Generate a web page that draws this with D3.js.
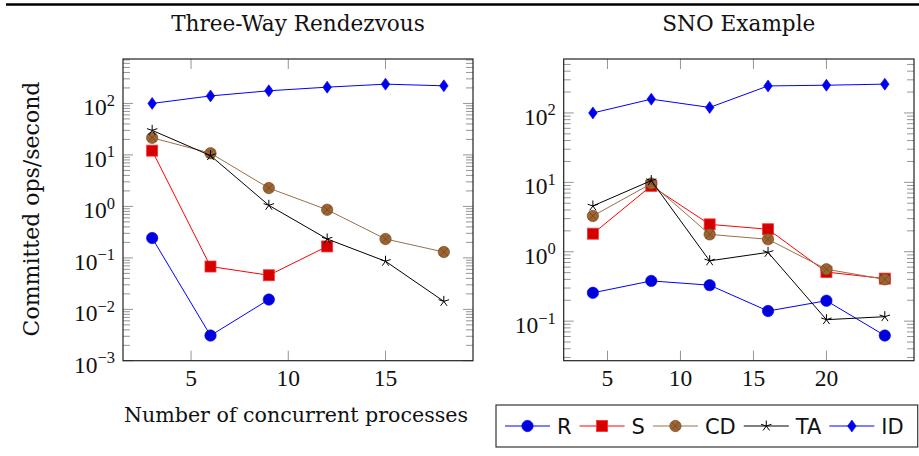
<!DOCTYPE html>
<html>
<head>
<meta charset="utf-8">
<script src="https://cdn.jsdelivr.net/npm/d3@7"></script>
<style>
body{margin:0;background:#fff;}
svg text{fill:#111;}
.serif{font-family:"DejaVu Serif",serif;}
.num{font-family:"Liberation Serif",serif;}
.sans{font-family:"DejaVu Sans",sans-serif;}
</style>
</head>
<body>
<script>
// data
var rvX  = [3,6,9,12,15,18];
var rvR  = [0.243,0.0031,0.0155,null,null,null];
var rvS  = [12.1,0.068,0.046,0.167,null,null];
var rvCD = [21.5,10.8,2.27,0.86,0.233,0.13];
var rvTA = [30,9.7,1.05,0.233,0.086,0.0143];
var rvID = [100,140,176,207,237,220];

var snoX  = [4,8,12,16,20,24];
var snoR  = [0.256,0.38,0.33,0.14,0.197,0.062];
var snoS  = [1.82,8.9,2.48,2.11,0.51,0.41];
var snoCD = [3.28,9.6,1.78,1.51,0.56,0.40];
var snoTA = [4.57,10.6,0.74,0.98,0.105,0.116];
var snoID = [100,158,120,245,251,260];

var seriesNames = ["R","S","CD","TA","ID"];
var xTicksRv  = [5,10,15];
var xTicksSno = [5,10,15,20];

// styles
var styles = {
  R:  {line:"#0000ff", mark:"circle",  fill:"#0000dd", stroke:"#0000ff"},
  S:  {line:"#ff0000", mark:"square",  fill:"#d40000", stroke:"#ff3030"},
  CD: {line:"#99704a", mark:"otimes",  fill:"#9c6430", stroke:"#6a4520"},
  TA: {line:"#000000", mark:"star",    fill:"none",    stroke:"#000000"},
  ID: {line:"#0000ff", mark:"diamond", fill:"#0000ee", stroke:"#0000ff"}
};

var W = 919, H = 456;
var svg = d3.select("body").append("svg")
  .attr("width",W).attr("height",H);

// top rule
svg.append("line").attr("x1",6).attr("x2",919).attr("y1",4.5).attr("y2",4.5)
  .attr("stroke","#000").attr("stroke-width",2.6);

function drawMarker(g, type, x, y, st){
  var m = g.append("g").attr("transform","translate("+x+","+y+")");
  if(type=="circle"){
    m.append("circle").attr("r",5.7).attr("fill",st.fill).attr("stroke",st.stroke).attr("stroke-width",0.6);
  } else if(type=="square"){
    m.append("rect").attr("x",-5.5).attr("y",-5.5).attr("width",11).attr("height",11)
      .attr("fill",st.fill).attr("stroke",st.stroke).attr("stroke-width",0.8);
  } else if(type=="otimes"){
    m.append("circle").attr("r",5.7).attr("fill",st.fill).attr("stroke",st.stroke).attr("stroke-width",0.6);
    var k = 4;
    m.append("path").attr("d","M"+(-k)+","+(-k)+"L"+k+","+k+"M"+(-k)+","+k+"L"+k+","+(-k))
      .attr("stroke",st.stroke).attr("stroke-width",0.7);
  } else if(type=="star"){
    var d = "";
    for(var i=0;i<5;i++){
      var a = -Math.PI/2 + i*2*Math.PI/5;
      d += "M0,0L"+(5.5*Math.cos(a)).toFixed(2)+","+(5.5*Math.sin(a)).toFixed(2);
    }
    m.append("path").attr("d",d).attr("stroke",st.stroke).attr("stroke-width",1).attr("fill","none");
  } else if(type=="diamond"){
    m.append("path").attr("d","M0,-6L4.3,0L0,6L-4.3,0Z").attr("fill",st.fill)
      .attr("stroke",st.stroke).attr("stroke-width",0.6);
  }
}

function supLabel(g, x, y, exp, anchor){
  var t = g.append("text").attr("class","num").attr("x",x).attr("y",y)
    .attr("text-anchor",anchor).attr("font-size",23.5);
  t.append("tspan").text("10");
  t.append("tspan").attr("dy",-9.5).attr("font-size",16.5).text(exp<0 ? "\u2212"+(-exp) : ""+exp);
}

function drawPanel(p){
  var g = svg.append("g");
  // pgfplots-like limits: enlarge by 10% of range
  var xe = d3.extent(p.xs);
  var xpad = (xe[1]-xe[0])*0.1;
  var all = [];
  p.series.forEach(function(s){ s.forEach(function(v){ if(v!=null) all.push(Math.log10(v)); }); });
  var le = d3.extent(all), lpad = (le[1]-le[0])*0.1;
  var x = d3.scaleLinear().domain([xe[0]-xpad, xe[1]+xpad]).range([p.left,p.right]);
  var y = d3.scaleLog().domain([Math.pow(10,le[0]-lpad), Math.pow(10,le[1]+lpad)]).range([p.bottom,p.top]);

  var tickCol = "#7a7a7a";
  // x ticks (bottom and top, inward)
  p.xTicks.forEach(function(t){
    g.append("line").attr("x1",x(t)).attr("x2",x(t)).attr("y1",p.bottom).attr("y2",p.bottom-10)
      .attr("stroke",tickCol).attr("stroke-width",0.8);
    g.append("line").attr("x1",x(t)).attr("x2",x(t)).attr("y1",p.top).attr("y2",p.top+10)
      .attr("stroke",tickCol).attr("stroke-width",0.8);
    g.append("text").attr("class","num").attr("x",x(t)).attr("y",p.bottom+25.5)
      .attr("text-anchor","middle").attr("font-size",23.5).text(t);
  });
  // y ticks, major and minor, both sides
  var d0 = y.domain();
  var k0 = Math.floor(Math.log10(d0[0])), k1 = Math.ceil(Math.log10(d0[1]));
  for(var k=k0;k<=k1;k++){
    for(var m=1;m<=9;m++){
      var v = m*Math.pow(10,k);
      if(v < d0[0]*0.98 || v > d0[1]*1.001) continue;
      var len = m==1 ? 10 : 7;
      var yy = Math.min(y(v), p.bottom);
      g.append("line").attr("x1",p.left).attr("x2",p.left+len).attr("y1",yy).attr("y2",yy)
        .attr("stroke",tickCol).attr("stroke-width",0.8);
      g.append("line").attr("x1",p.right).attr("x2",p.right-len).attr("y1",yy).attr("y2",yy)
        .attr("stroke",tickCol).attr("stroke-width",0.8);
      if(m==1) supLabel(g, p.left-8, yy+12, k, "end");
    }
  }
  // frame
  g.append("rect").attr("x",p.left).attr("y",p.top).attr("width",p.right-p.left)
    .attr("height",p.bottom-p.top).attr("fill","none").attr("stroke","#222").attr("stroke-width",1.2);

  // series
  var line = d3.line().defined(function(d){return d[1]!=null;})
    .x(function(d){return x(d[0]);}).y(function(d){return y(d[1]);});
  p.series.forEach(function(s,i){
    var st = styles[seriesNames[i]];
    var pts = p.xs.map(function(xv,j){ return [xv, s[j]]; });
    g.append("path").attr("d",line(pts)).attr("fill","none")
      .attr("stroke",st.line).attr("stroke-width",1);
    pts.forEach(function(d){
      if(d[1]!=null) drawMarker(g, st.mark, x(d[0]), y(d[1]), st);
    });
  });

  // title
  g.append("text").attr("class","serif").attr("x",(p.left+p.right)/2).attr("y",31)
    .attr("text-anchor","middle").attr("font-size",21.6).text(p.title);
}

drawPanel({left:123, right:473, top:59, bottom:360.7, xs:rvX,
  series:[rvR,rvS,rvCD,rvTA,rvID], xTicks:xTicksRv, title:"Three-Way Rendezvous"});
drawPanel({left:563.7, right:914, top:59, bottom:360.7, xs:snoX,
  series:[snoR,snoS,snoCD,snoTA,snoID], xTicks:xTicksSno, title:"SNO Example"});

// axis labels
svg.append("text").attr("class","serif").attr("x",296).attr("y",422)
  .attr("text-anchor","middle").attr("font-size",20.6).text("Number of concurrent processes");
svg.append("text").attr("class","serif")
  .attr("transform","translate(39,209) rotate(-90)")
  .attr("text-anchor","middle").attr("font-size",22).text("Committed ops/second");

// legend
var lg = svg.append("g");
var lx = 505, ly = 426;
seriesNames.forEach(function(n){
  var st = styles[n];
  lg.append("line").attr("x1",lx).attr("x2",lx+45).attr("y1",ly).attr("y2",ly)
    .attr("stroke",st.line).attr("stroke-width",1);
  drawMarker(lg, st.mark, lx+22.5, ly, st);
  var t = lg.append("text").attr("class","sans").attr("x",lx+52).attr("y",ly+7.5)
    .attr("font-size",21).text(n);
  lx = lx + 52 + t.node().getComputedTextLength() + 8;
});
lg.insert("rect",":first-child").attr("x",496).attr("y",405).attr("width",lx-496+6).attr("height",42)
  .attr("fill","#fff").attr("stroke","#222").attr("stroke-width",1.1);
</script>
</body>
</html>
